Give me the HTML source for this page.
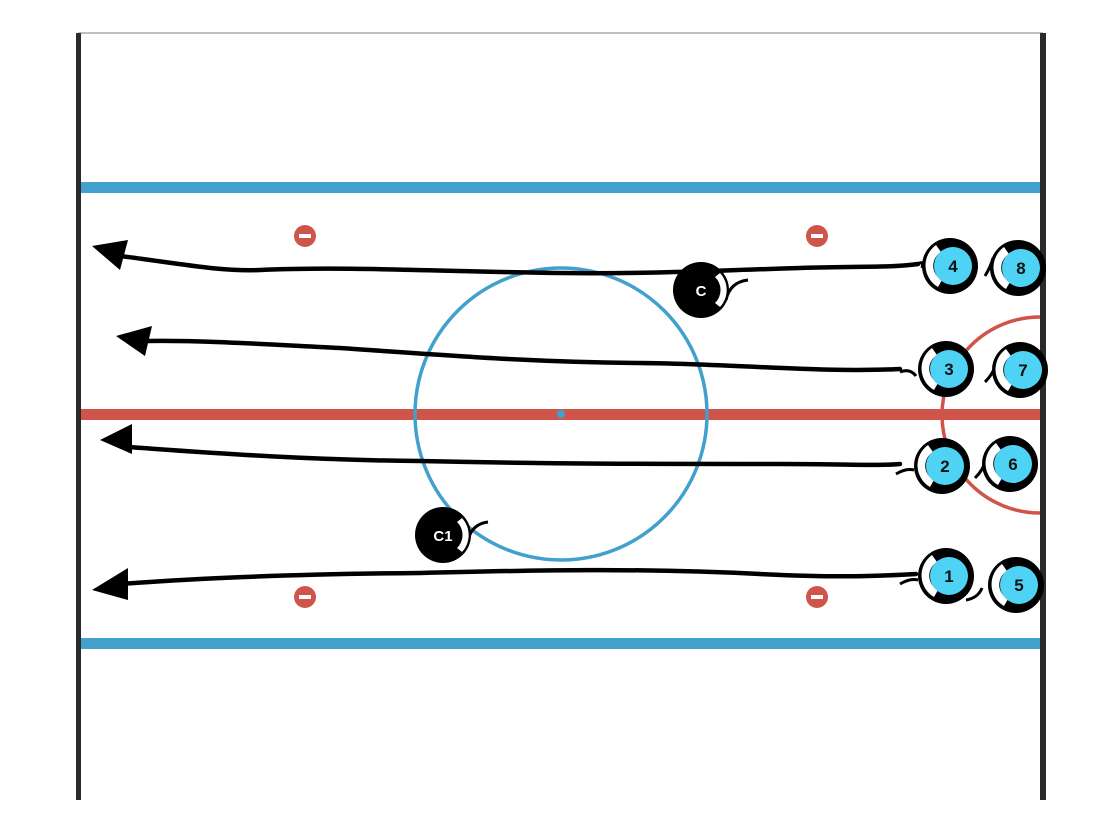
<!DOCTYPE html>
<html><head><style>html,body{margin:0;padding:0;background:#fff;width:1100px;height:832px;overflow:hidden}</style></head>
<body>
<svg width="1100" height="832" viewBox="0 0 1100 832" xmlns="http://www.w3.org/2000/svg" font-family="Liberation Sans, sans-serif">
<defs>
<g id="p"><circle r="28" fill="#000"/><path d="M-14 -21 A25 25 0 0 0 -12 21 L-8 14 A16 16 0 0 1 -9 -14 Z" fill="#fff"/><circle cx="3" r="19" fill="#4fd3f5"/></g>
</defs>
<rect width="1100" height="832" fill="#fff"/>
<line x1="78" y1="33" x2="1043" y2="33" stroke="#aaa" stroke-width="1.5"/>
<rect x="76" y="33" width="5" height="767" fill="#2a2a2a"/>
<rect x="1040" y="33" width="6" height="767" fill="#2a2a2a"/>
<rect x="81" y="182" width="959" height="11" fill="#42a0cc"/>
<rect x="81" y="638" width="959" height="11" fill="#42a0cc"/>
<rect x="81" y="409" width="959" height="11" fill="#cf554a"/>
<circle cx="561" cy="414" r="146" fill="none" stroke="#42a0cc" stroke-width="3.5"/>
<circle cx="561" cy="414" r="4" fill="#42a0cc"/>
<path d="M1040 317 A98 98 0 0 0 1040 513" fill="none" stroke="#cf554a" stroke-width="3.5"/>
<g fill="#cf554a">
<circle cx="305" cy="236" r="11"/><circle cx="817" cy="236" r="11"/>
<circle cx="305" cy="597" r="11"/><circle cx="817" cy="597" r="11"/>
</g>
<g fill="#fff">
<rect x="299" y="234" width="12" height="4"/><rect x="811" y="234" width="12" height="4"/>
<rect x="299" y="595" width="12" height="4"/><rect x="811" y="595" width="12" height="4"/>
</g>
<g fill="none" stroke="#000" stroke-width="4.5" stroke-linecap="round">
<path d="M120 256 C170 262 220 272 260 270 C350 266 450 272 560 273 C650 274 700 271 800 268 C860 266 890 268 918 264"/>
<path d="M145 341 C200 340 260 344 340 348 C430 354 520 362 640 363 C740 364 820 373 900 369"/>
<path d="M128 447 C200 452 300 460 420 461 C550 464 650 464 780 464 C850 464 880 466 900 464"/>
<path d="M120 584 C200 578 300 574 420 573 C540 570 640 568 760 574 C840 578 880 576 916 574"/>
</g>
<g fill="#000">
<polygon points="92,246 128,240 120,270"/>
<polygon points="116,336 152,326 145,356"/>
<polygon points="100,440 132,424 132,454"/>
<polygon points="92,590 128,568 128,600"/>
</g>
<g fill="none" stroke="#000" stroke-width="3">
<path d="M918 264 q6 -4 4 4"/>
<path d="M985 276 q6 -10 8 -18"/>
<path d="M900 372 q10 -4 16 4"/><path d="M985 382 q8 -8 10 -16"/>
<path d="M896 474 q10 -6 18 -4"/><path d="M975 478 q8 -8 10 -16"/>
<path d="M900 584 q10 -6 18 -4"/><path d="M966 600 q12 -2 16 -12"/>
<path d="M726 300 q4 -18 22 -20"/>
<path d="M468 540 q4 -16 20 -18"/>
</g>
<g font-weight="bold" font-size="17" text-anchor="middle" fill="#111">
<g transform="translate(950,266)"><use href="#p"/><text x="3" y="6">4</text></g>
<g transform="translate(1018,268)"><use href="#p"/><text x="3" y="6">8</text></g>
<g transform="translate(946,369)"><use href="#p"/><text x="3" y="6">3</text></g>
<g transform="translate(1020,370)"><use href="#p"/><text x="3" y="6">7</text></g>
<g transform="translate(942,466)"><use href="#p"/><text x="3" y="6">2</text></g>
<g transform="translate(1010,464)"><use href="#p"/><text x="3" y="6">6</text></g>
<g transform="translate(946,576)"><use href="#p"/><text x="3" y="6">1</text></g>
<g transform="translate(1016,585)"><use href="#p"/><text x="3" y="6">5</text></g>
</g>
<g font-weight="bold" font-size="15" text-anchor="middle">
<g transform="translate(701,290)"><circle r="28" fill="#000"/><path d="M19 -17 A25 25 0 0 1 19 17 L14 13 A18 18 0 0 0 14 -13 Z" fill="#fff"/><text x="0" y="6" fill="#fff">C</text></g>
<g transform="translate(443,535)"><circle r="28" fill="#000"/><path d="M19 -17 A25 25 0 0 1 19 17 L14 13 A18 18 0 0 0 14 -13 Z" fill="#fff"/><text x="0" y="6" fill="#fff">C1</text></g>
</g>
</svg>
</body></html>
